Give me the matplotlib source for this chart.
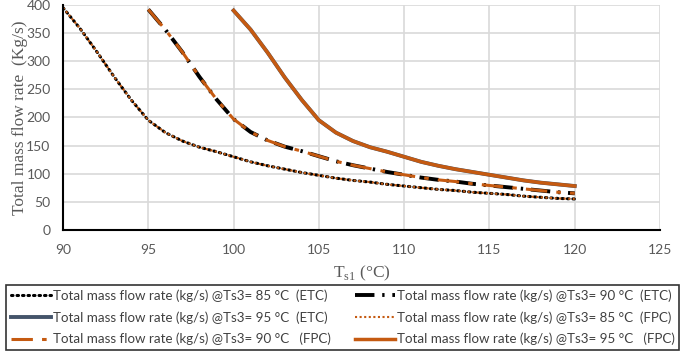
import matplotlib
matplotlib.use("Agg")
import matplotlib.pyplot as plt

# Data (values at each 1 °C)
t_85 = [90, 91, 92, 93, 94, 95, 96, 97, 98, 99, 100, 101, 102, 103, 104, 105, 106, 107, 108, 109, 110,
        111, 112, 113, 114, 115, 116, 117, 118, 119, 120]
m_85 = [395, 358, 316, 272, 231, 195, 173, 158, 147, 139, 130, 121, 114, 108, 102, 97, 92, 88, 85, 81, 78,
        75, 72, 70, 67, 65, 63, 60, 58, 56, 55]
t_90 = [95, 96, 97, 98, 99, 100, 101, 102, 103, 104, 105, 106, 107, 108, 109, 110,
        111, 112, 113, 114, 115, 116, 117, 118, 119, 120]
m_90 = [392, 356, 316, 272, 232, 197, 174, 159, 148, 140, 131, 122, 115, 109, 103, 98,
        93, 89, 86, 82, 79, 76, 73, 70, 67, 65]
t_95 = [100, 101, 102, 103, 104, 105, 106, 107, 108, 109, 110,
        111, 112, 113, 114, 115, 116, 117, 118, 119, 120]
m_95 = [390, 356, 315, 271, 231, 195, 173, 158, 147, 139, 130,
        121, 114, 108, 103, 98, 93, 88, 84, 81, 78]

labels = [
    "Total mass flow rate (kg/s) @Ts3= 85 °C  (ETC)",
    "Total mass flow rate (kg/s) @Ts3= 90 °C  (ETC)",
    "Total mass flow rate (kg/s) @Ts3= 95 °C  (ETC)",
    "Total mass flow rate (kg/s) @Ts3= 85 °C  (FPC)",
    "Total mass flow rate (kg/s) @Ts3= 90 °C   (FPC)",
    "Total mass flow rate (kg/s) @Ts3= 95 °C   (FPC)",
]
x_ticks = [90, 95, 100, 105, 110, 115, 120, 125]
y_ticks = [0, 50, 100, 150, 200, 250, 300, 350, 400]

orange = "#C55A11"
black = "#000000"
slate = "#44546A"

fig = plt.figure(figsize=(6.85, 3.51), dpi=100)
ax = fig.add_axes([0.092, 0.345, 0.8715, 0.641])

h = {}
h[0], = ax.plot(t_85, m_85, color=black, lw=2.2, linestyle=(0, (0.5, 1.3)), dash_capstyle="round", label=labels[0])
h[1], = ax.plot(t_90, m_90, color=black, lw=2.8, linestyle=(0, (5, 2, 0.6, 2)), label=labels[1])
h[2], = ax.plot(t_95, m_95, color=slate, lw=2.8, linestyle="-", label=labels[2])
h[3], = ax.plot(t_85, m_85, color=orange, lw=1.5, linestyle=(0, (1, 1.2)), label=labels[3])
h[4], = ax.plot(t_90, m_90, color=orange, lw=2.2, linestyle=(0, (7, 3, 1.5, 3)), label=labels[4])
h[5], = ax.plot(t_95, m_95, color=orange, lw=2.5, linestyle="-", label=labels[5])

ax.set_xlim(90, 125)
ax.set_ylim(0, 400)
ax.set_xticks(x_ticks)
ax.set_yticks(y_ticks)
ax.tick_params(axis="x", length=0, labelsize=10, labelcolor="#595959", pad=10)
ax.tick_params(axis="y", length=0, labelsize=10, labelcolor="#595959", pad=9)
for lab in ax.get_xticklabels() + ax.get_yticklabels():
    lab.set_fontfamily("Lato")
ax.grid(True, color="#D9D9D9", lw=1.2)
ax.set_axisbelow(True)
for s in ["top", "right"]:
    ax.spines[s].set_visible(False)
ax.spines["left"].set_color("#000000")
ax.spines["left"].set_linewidth(1.5)
ax.spines["bottom"].set_color("#000000")
ax.spines["bottom"].set_linewidth(1.5)

ax.set_xlabel("T$_{\\mathregular{s1}}$ (°C)", family="Liberation Serif", fontsize=12.5, color="#595959", labelpad=6)
ax.set_ylabel("Total mass flow rate  (Kg/s)", family="Liberation Serif", fontsize=12.5, color="#595959")
ax.yaxis.set_label_coords(-0.058, 0.5)

order = [0, 2, 4, 1, 3, 5]
leg = fig.legend([h[i] for i in order], [labels[i] for i in order], ncol=2,
                 loc="lower center", bbox_to_anchor=(0.5, 0.003), bbox_transform=fig.transFigure,
                 frameon=True, fancybox=False, edgecolor="#000000",
                 prop={"family": "Lato", "size": 9.6}, handlelength=3.0, handletextpad=0.15,
                 columnspacing=1.8, labelspacing=0.68, borderpad=0.35, borderaxespad=0.0)
leg.get_frame().set_linewidth(1.2)
for t in leg.get_texts():
    t.set_color("#404040")

fig.savefig("out.png", dpi=100)
